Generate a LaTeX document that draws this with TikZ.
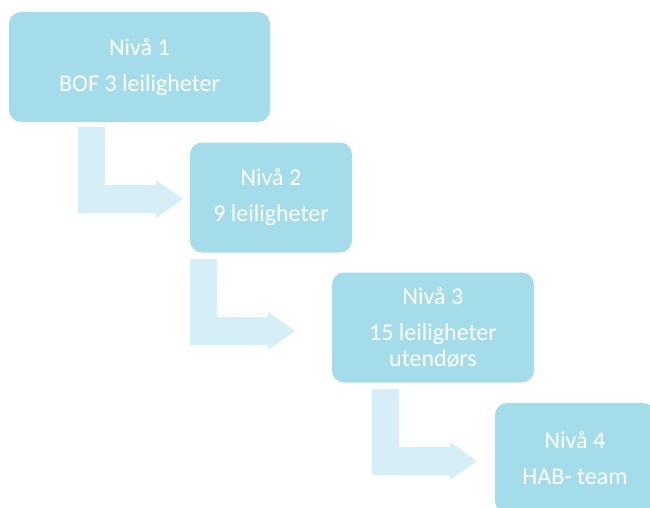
\documentclass[tikz,border=0pt]{standalone}
\usepackage{fontspec}
\setmainfont{Carlito}
\definecolor{boxcol}{HTML}{A4DDE9}
\definecolor{arrowcol}{HTML}{D6EEF5}
\newcommand{\bentarrow}[1]{%
  \fill[arrowcol, shift={#1}] (0,0) -- (27,0) -- (27,58) -- (78,58) -- (78,53)
    -- (105,72) -- (78,91) -- (78,86) -- (0,86) -- cycle;
}
\begin{document}
\begin{tikzpicture}[
        x=1pt, y=-1pt,
        level/.style={fill=boxcol, draw=none, rounded corners=12pt, text=white,
            align=center, inner sep=0pt, minimum height=110pt,
            font=\fontsize{24}{26}\selectfont},
    ]
    \useasboundingbox (0,0) rectangle (650,508);
    \clip (0,0) rectangle (650,508);
    % bent arrows between the levels
    \bentarrow{(78,127)}
    \bentarrow{(190,259)}
    \bentarrow{(372,389)}
    % levels
    \node[level, minimum width=261pt](niva1) at (139.5,67){Nivå 1\\[10pt]BOF 3 leiligheter};
    \node[level, minimum width=162pt](niva2) at (271,197.5){Nivå 2\\[10pt]9 leiligheter};
    \node[level, minimum width=202pt](niva3) at (433,327.5){Nivå 3\\[10pt]15 leiligheter\\utendørs};
    \node[level, minimum width=160pt](niva4) at (575,458){Nivå 4\\[10pt]HAB- team};
\end{tikzpicture}
\end{document}
